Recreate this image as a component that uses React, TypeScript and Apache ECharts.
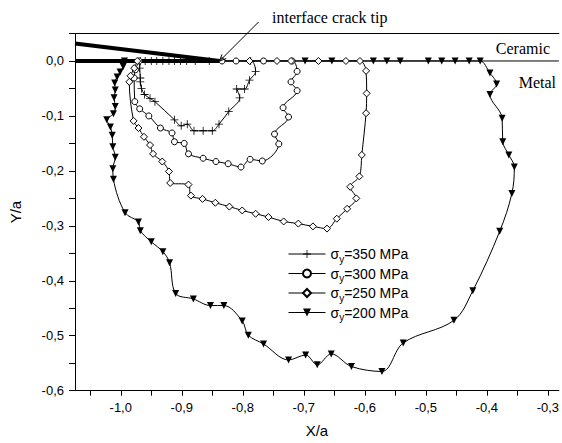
import React, { useEffect, useRef } from 'react';
import * as echarts from 'echarts';

// ---------- data ----------
const X_MIN = -1.075;
const X_MAX = -0.282;
const Y_MIN = -0.6;
const Y_MAX = 0.05;
const X_TICKS = [-1.05, -1.0, -0.95, -0.9, -0.85, -0.8, -0.75, -0.7, -0.65, -0.6, -0.55, -0.5, -0.45, -0.4, -0.35, -0.3];
const X_LABELS = [-1.0, -0.9, -0.8, -0.7, -0.6, -0.5, -0.4, -0.3];

const CRACK_TIP: [number, number] = [-0.838, 0];
const CRACK_UPPER_FACE: [number, number][] = [[-1.075, 0.032], [-0.838, 0]];
const CRACK_LOWER_FACE: [number, number][] = [[-1.075, 0], [-0.838, 0]];
const INTERFACE: [number, number][] = [[-1.075, 0], [-0.282, 0]];

const NAMES = ['σy=350 MPa', 'σy=300 MPa', 'σy=250 MPa', 'σy=200 MPa'];

const S350: [number, number][] = [
  [-0.968, 0], [-0.969, -0.013], [-0.968, -0.031], [-0.968, -0.038], [-0.966, -0.050], [-0.961, -0.061],
  [-0.952, -0.068], [-0.944, -0.074], [-0.912, -0.107], [-0.901, -0.118], [-0.891, -0.115], [-0.880, -0.127],
  [-0.865, -0.127], [-0.850, -0.127], [-0.839, -0.115], [-0.823, -0.092], [-0.805, -0.067], [-0.810, -0.051],
  [-0.797, -0.051], [-0.789, -0.035], [-0.779, -0.019], [-0.787, 0], [-0.855, 0], [-0.878, 0], [-0.892, 0],
  [-0.902, 0], [-0.912, 0], [-0.921, 0], [-0.931, 0], [-0.941, 0], [-0.950, 0], [-0.960, 0],
];

const S300: [number, number][] = [
  [-0.970, 0], [-0.976, -0.016], [-0.978, -0.031], [-0.977, -0.074], [-0.969, -0.087], [-0.954, -0.100],
  [-0.935, -0.122], [-0.916, -0.131], [-0.912, -0.147], [-0.896, -0.150], [-0.889, -0.169], [-0.865, -0.177],
  [-0.844, -0.183], [-0.824, -0.187], [-0.803, -0.193], [-0.788, -0.179], [-0.768, -0.182], [-0.741, -0.151],
  [-0.748, -0.133], [-0.725, -0.102], [-0.734, -0.085], [-0.711, -0.054], [-0.721, -0.038], [-0.711, -0.019],
  [-0.719, 0], [-0.766, 0], [-0.811, 0], [-0.834, 0],
];

const S250: [number, number][] = [
  [-0.973, 0], [-0.978, -0.013], [-0.984, -0.027], [-0.986, -0.038], [-0.979, -0.109], [-0.971, -0.122],
  [-0.962, -0.138], [-0.952, -0.153], [-0.947, -0.169], [-0.932, -0.183], [-0.921, -0.201], [-0.919, -0.222],
  [-0.889, -0.225], [-0.885, -0.245], [-0.866, -0.251], [-0.845, -0.258], [-0.822, -0.265], [-0.801, -0.272],
  [-0.779, -0.278], [-0.758, -0.284], [-0.733, -0.292], [-0.709, -0.296], [-0.685, -0.301], [-0.662, -0.305],
  [-0.646, -0.287], [-0.629, -0.269], [-0.614, -0.250], [-0.624, -0.229], [-0.609, -0.210], [-0.605, -0.171],
  [-0.598, -0.095], [-0.597, -0.059], [-0.598, -0.018], [-0.608, 0], [-0.631, 0], [-0.676, 0], [-0.721, 0],
  [-0.744, 0], [-0.789, 0],
];

const S200: [number, number][] = [
  [-0.994, 0], [-0.996, -0.010], [-1.001, -0.020], [-1.006, -0.029], [-1.010, -0.040], [-1.009, -0.053],
  [-1.011, -0.067], [-1.009, -0.083], [-1.012, -0.096], [-1.023, -0.107], [-1.017, -0.120], [-1.014, -0.135],
  [-1.013, -0.156], [-1.009, -0.175], [-1.013, -0.196], [-1.012, -0.215], [-0.993, -0.276], [-0.971, -0.293],
  [-0.968, -0.309], [-0.950, -0.329], [-0.931, -0.347], [-0.920, -0.367], [-0.910, -0.423], [-0.881, -0.433],
  [-0.853, -0.445], [-0.831, -0.445], [-0.801, -0.473], [-0.791, -0.499], [-0.766, -0.515], [-0.725, -0.544],
  [-0.697, -0.535], [-0.678, -0.553], [-0.655, -0.533], [-0.622, -0.556], [-0.572, -0.565], [-0.537, -0.513],
  [-0.454, -0.472], [-0.423, -0.418], [-0.379, -0.310], [-0.359, -0.241], [-0.355, -0.193], [-0.364, -0.171],
  [-0.374, -0.147], [-0.375, -0.104], [-0.395, -0.061], [-0.384, -0.042], [-0.395, -0.022], [-0.411, 0],
  [-0.429, 0], [-0.452, 0], [-0.474, 0], [-0.496, 0], [-0.542, 0], [-0.564, 0], [-0.586, 0], [-0.654, 0],
  [-0.698, 0],
];

const SANS = '"Liberation Sans", Arial, sans-serif';
const SERIF = '"Liberation Serif", "Times New Roman", serif';
const PLUS = 'path://M4.5,0H5.5V4.5H10V5.5H5.5V10H4.5V5.5H0V4.5H4.5Z';

const fmt = (v: number) => {
  const r = Math.round(v * 10) / 10;
  return (Math.abs(r) < 1e-9 ? 0 : r).toFixed(1).replace('.', ',');
};

export default function App() {
  const ref = useRef<HTMLDivElement>(null);
  useEffect(() => {
    if (!ref.current) return;
    const chart = echarts.init(ref.current, undefined, { renderer: 'svg' });
    const curve = (name: string, data: [number, number][], symbol: string, filled: boolean, size: number, rotate = 0) => ({
      type: 'line',
      name,
      data,
      smooth: 0.35,
      symbol,
      symbolSize: size,
      symbolRotate: rotate,
      showAllSymbol: true,
      clip: false,
      z: 4,
      lineStyle: { color: '#000', width: 1 },
      itemStyle: filled
        ? { color: '#000', borderColor: '#000', borderWidth: 0 }
        : { color: '#fff', borderColor: '#000', borderWidth: 1 },
    });
    const plain = (data: [number, number][], width: number) => ({
      type: 'line',
      data,
      symbol: 'none',
      silent: true,
      z: 2,
      clip: false,
      lineStyle: { color: '#000', width, cap: 'butt' },
    });
    chart.setOption({
      animation: false,
      backgroundColor: '#fff',
      grid: { left: 71, right: 0, top: 33.5, bottom: 52.3, containLabel: false },
      xAxis: [
        {
          type: 'value',
          min: X_MIN,
          max: X_MAX,
          position: 'bottom',
          axisLine: { show: true, onZero: false, lineStyle: { color: '#000', width: 1 } },
          axisTick: { show: true, customValues: X_TICKS, length: 5, lineStyle: { color: '#000', width: 1 } },
          axisLabel: { customValues: X_LABELS, formatter: fmt, color: '#000', fontSize: 13, fontFamily: SANS, margin: 10 },
          splitLine: { show: false },
          name: 'X/a',
          nameLocation: 'middle',
          nameGap: 32,
          nameTextStyle: { fontSize: 15, color: '#000', fontFamily: SANS },
        },
        {
          type: 'value',
          min: X_MIN,
          max: X_MAX,
          position: 'top',
          axisLine: { show: true, onZero: false, lineStyle: { color: '#000', width: 1 } },
          axisTick: { show: false },
          axisLabel: { show: false },
          splitLine: { show: false },
        },
      ],
      yAxis: {
        type: 'value',
        min: Y_MIN,
        max: Y_MAX,
        interval: 0.05,
        axisLine: { show: true, onZero: false, lineStyle: { color: '#000', width: 1 } },
        axisTick: { show: true, length: 6, lineStyle: { color: '#000', width: 1 } },
        axisLabel: {
          formatter: (v: number) => (Math.round(v * 100) % 10 !== 0 ? '' : fmt(v)),
          color: '#000',
          fontSize: 13,
          fontFamily: SANS,
          margin: 11,
        },
        splitLine: { show: false },
        name: 'Y/a',
        nameLocation: 'middle',
        nameGap: 52,
        nameTextStyle: { fontSize: 15, color: '#000', fontFamily: SANS },
      },
      legend: {
        data: NAMES,
        orient: 'vertical',
        left: 283,
        top: 242,
        itemWidth: 37,
        itemHeight: 10,
        itemGap: 2.5,
        lineStyle: { width: 1, color: '#000' },
        formatter: (name: string) => `{g|σ}{sub|y}{t|${name.replace('σy', '')}}`,
        textStyle: {
          color: '#000',
          fontFamily: SANS,
          fontSize: 14,
          rich: {
            g: { fontSize: 14, fontFamily: SANS, color: '#000', lineHeight: 20 },
            t: { fontSize: 14, fontFamily: SANS, color: '#000', lineHeight: 20 },
            sub: { fontSize: 10, fontFamily: SANS, color: '#000', lineHeight: 9, verticalAlign: 'bottom' },
          },
        },
      },
      series: [
        plain(INTERFACE, 1),
        plain(CRACK_LOWER_FACE, 4),
        plain(CRACK_UPPER_FACE, 4),
        curve(NAMES[0], S350, PLUS, true, 8),
        curve(NAMES[1], S300, 'circle', false, 6),
        curve(NAMES[2], S250, 'diamond', false, 7),
        curve(NAMES[3], S200, 'triangle', true, 7, 180),
      ],
    });

    const tip = chart.convertToPixel({ xAxisIndex: 0, yAxisIndex: 0 }, CRACK_TIP) as number[];
    const start = [tip[0] + 39, tip[1] - 39];
    const dx = tip[0] - start[0];
    const dy = tip[1] - start[1];
    const len = Math.hypot(dx, dy);
    const ux = dx / len;
    const uy = dy / len;
    const hl = 7;
    const ang = (25 * Math.PI) / 180;
    const rot = (a: number) => [
      tip[0] - hl * (ux * Math.cos(a) - uy * Math.sin(a)),
      tip[1] - hl * (ux * Math.sin(a) + uy * Math.cos(a)),
    ];
    chart.setOption({
      graphic: [
        { type: 'line', shape: { x1: start[0], y1: start[1], x2: tip[0], y2: tip[1] }, style: { stroke: '#000', lineWidth: 1 }, z: 10 },
        { type: 'polyline', shape: { points: [rot(ang), tip, rot(-ang)] }, style: { stroke: '#000', fill: 'none', lineWidth: 1 }, z: 10 },
        { type: 'text', x: 272, y: 17, style: { text: 'interface crack tip', font: `16px ${SERIF}`, fill: '#000', textVerticalAlign: 'middle' }, z: 10 },
        { type: 'text', x: 550, y: 48, style: { text: 'Ceramic', font: `16px ${SERIF}`, fill: '#000', textAlign: 'right', textVerticalAlign: 'middle' }, z: 10 },
        { type: 'text', x: 556, y: 82, style: { text: 'Metal', font: `16px ${SERIF}`, fill: '#000', textAlign: 'right', textVerticalAlign: 'middle' }, z: 10 },
      ],
    });

    return () => chart.dispose();
  }, []);
  return <div ref={ref} style={{ width: 562, height: 443, position: 'absolute', left: 0, top: 0 }} />;
}
